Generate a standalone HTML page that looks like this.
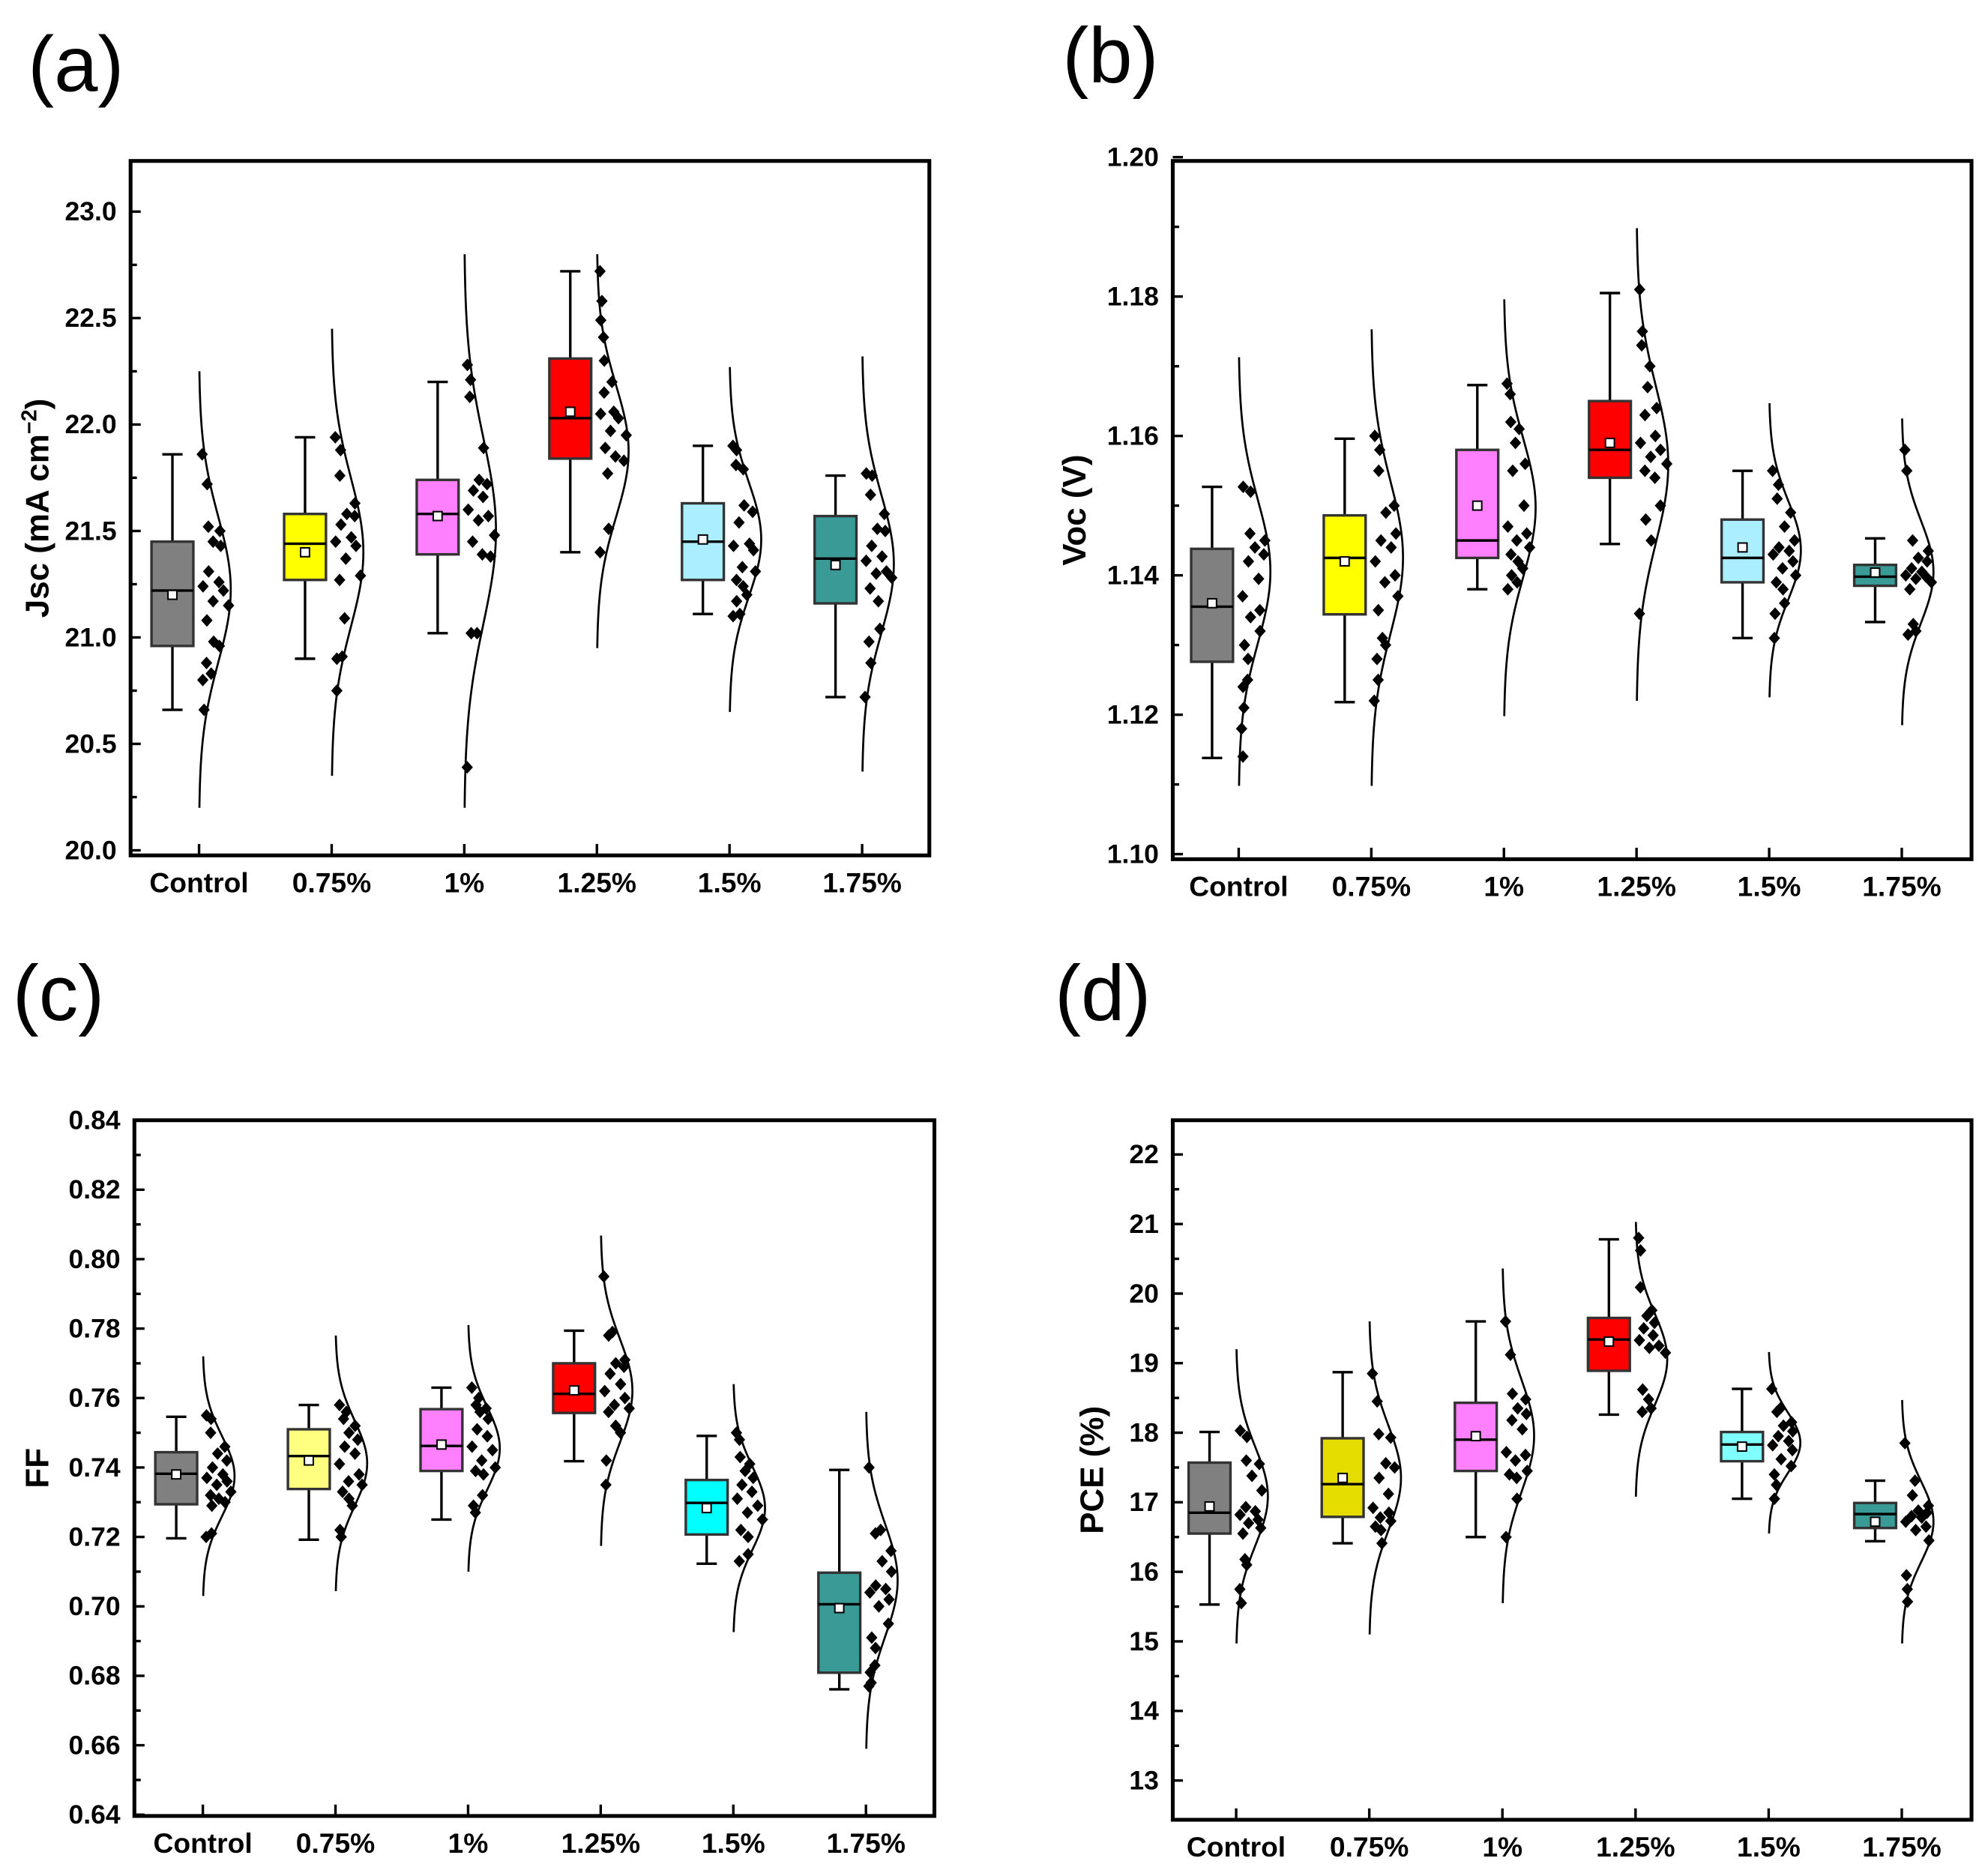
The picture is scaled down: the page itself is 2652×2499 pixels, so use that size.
<!DOCTYPE html>
<html><head><meta charset="utf-8"><style>
html,body{margin:0;padding:0;background:#fff;}
svg{display:block;}
text{font-family:"Liberation Sans",Arial,sans-serif;}
</style></head>
<body>
<svg id="fig" xmlns="http://www.w3.org/2000/svg" width="2652" height="2499" viewBox="0 0 1568 1478" preserveAspectRatio="none">
<rect x="0" y="0" width="1568" height="1478" fill="#fff"/>
</svg>
<script>
const categories = ["Control","0.75%","1%","1.25%","1.5%","1.75%"];

// ---------- (a) Jsc ----------
const jscQ1 = [20.96,21.27,21.39,21.84,21.27,21.16];
const jscQ3 = [21.45,21.58,21.74,22.31,21.63,21.57];
const jscMed = [21.22,21.44,21.58,22.03,21.45,21.37];
const jscMean = [21.20,21.40,21.57,22.06,21.46,21.34];
const jscMin = [20.66,20.90,21.02,21.40,21.11,20.72];
const jscMax = [21.86,21.94,22.20,22.72,21.90,21.76];
const jscCurveLo = [20.20,20.35,20.20,20.95,20.65,20.37];
const jscCurveHi = [22.25,22.45,22.80,22.80,22.27,22.32];
const jscPoints = [
 [21.86,21.72,21.52,21.50,21.45,21.43,21.31,21.26,21.24,21.22,21.17,21.15,21.08,20.98,20.96,20.88,20.83,20.80,20.66],
 [21.94,21.88,21.76,21.63,21.58,21.57,21.53,21.47,21.45,21.43,21.37,21.29,21.27,21.09,20.91,20.90,20.75],
 [22.28,22.21,22.13,21.89,21.74,21.72,21.69,21.66,21.60,21.57,21.55,21.48,21.45,21.39,21.38,21.02,21.02,20.39],
 [22.72,22.58,22.49,22.41,22.30,22.20,22.15,22.06,22.05,22.03,21.97,21.95,21.89,21.85,21.83,21.77,21.51,21.40],
 [21.90,21.88,21.81,21.79,21.62,21.59,21.54,21.44,21.43,21.41,21.33,21.31,21.27,21.24,21.20,21.17,21.11,21.10],
 [21.77,21.76,21.67,21.58,21.51,21.50,21.43,21.38,21.36,21.31,21.30,21.28,21.23,21.17,21.04,20.98,20.88,20.72]];
const jscTicks = ["20.0","20.5","21.0","21.5","22.0","22.5","23.0"];
const jscColors = ["#808080","#ffff00","#ff80ff","#ff0000","#aaeeff","#3a9a96"];

// ---------- (b) Voc ----------
const vocQ1 = [1.1276,1.1344,1.1425,1.154,1.139,1.1385];
const vocQ3 = [1.1438,1.1486,1.158,1.165,1.148,1.1415];
const vocMed = [1.1355,1.1425,1.145,1.158,1.1425,1.1398];
const vocMean = [1.136,1.142,1.150,1.159,1.144,1.1404];
const vocMin = [1.1138,1.1218,1.138,1.1445,1.131,1.1333];
const vocMax = [1.1527,1.1596,1.1673,1.1805,1.155,1.1453];
const vocCurveLo = [1.1098,1.1098,1.1198,1.122,1.1225,1.1185];
const vocCurveHi = [1.1713,1.1753,1.1796,1.1898,1.1647,1.1625];
const vocPoints = [
 [1.1527,1.152,1.146,1.145,1.144,1.143,1.142,1.1395,1.137,1.135,1.134,1.132,1.130,1.128,1.125,1.124,1.121,1.118,1.114],
 [1.160,1.158,1.155,1.150,1.149,1.146,1.145,1.144,1.142,1.140,1.139,1.137,1.135,1.131,1.130,1.128,1.125,1.122],
 [1.1675,1.166,1.162,1.161,1.159,1.156,1.155,1.150,1.147,1.146,1.145,1.144,1.143,1.142,1.141,1.140,1.139,1.138],
 [1.181,1.175,1.173,1.170,1.167,1.164,1.163,1.160,1.159,1.158,1.157,1.156,1.155,1.154,1.150,1.148,1.145,1.1345],
 [1.155,1.153,1.151,1.149,1.147,1.145,1.144,1.1435,1.143,1.142,1.141,1.140,1.139,1.138,1.136,1.1345,1.131],
 [1.158,1.155,1.145,1.1435,1.1425,1.142,1.141,1.1405,1.140,1.1398,1.1395,1.139,1.138,1.133,1.132,1.1315]];
const vocTicks = ["1.10","1.12","1.14","1.16","1.18","1.20"];
const vocColors = ["#808080","#ffff00","#ff80ff","#ff0000","#aaeeff","#3a9a96"];

// ---------- (c) FF ----------
const ffQ1 = [0.7294,0.7338,0.739,0.7557,0.7207,0.6809];
const ffQ3 = [0.7444,0.751,0.7568,0.770,0.7364,0.7097];
const ffMed = [0.7382,0.7433,0.7462,0.7612,0.7298,0.7006];
const ffMean = [0.738,0.742,0.7466,0.7622,0.7283,0.6995];
const ffMin = [0.7196,0.7192,0.725,0.7418,0.7123,0.6761];
const ffMax = [0.7546,0.758,0.763,0.7794,0.7491,0.7393];
const ffCurveLo = [0.703,0.7044,0.710,0.7174,0.6926,0.659];
const ffCurveHi = [0.772,0.778,0.781,0.8068,0.764,0.756];
const ffPoints = [
 [0.755,0.754,0.750,0.746,0.744,0.742,0.740,0.738,0.737,0.736,0.735,0.733,0.732,0.731,0.730,0.729,0.721,0.720],
 [0.758,0.756,0.754,0.752,0.750,0.748,0.746,0.744,0.741,0.738,0.736,0.735,0.733,0.731,0.729,0.722,0.720],
 [0.763,0.760,0.758,0.757,0.756,0.754,0.751,0.749,0.746,0.745,0.742,0.740,0.739,0.738,0.732,0.729,0.727],
 [0.795,0.779,0.778,0.771,0.770,0.769,0.767,0.764,0.762,0.760,0.758,0.757,0.756,0.752,0.750,0.742,0.735],
 [0.750,0.748,0.743,0.741,0.739,0.737,0.735,0.733,0.731,0.729,0.727,0.725,0.722,0.720,0.715,0.713],
 [0.740,0.722,0.721,0.716,0.713,0.710,0.706,0.705,0.704,0.702,0.700,0.695,0.691,0.688,0.683,0.681,0.678,0.677]];
const ffTicks = ["0.64","0.66","0.68","0.70","0.72","0.74","0.76","0.78","0.80","0.82","0.84"];
const ffColors = ["#808080","#ffff80","#ff80ff","#ff0000","#00ffff","#3a9a96"];

// ---------- (d) PCE ----------
const pceQ1 = [16.55,16.79,17.45,18.89,17.59,16.63];
const pceQ3 = [17.57,17.92,18.43,19.65,18.01,16.99];
const pceMed = [16.85,17.26,17.90,19.34,17.83,16.83];
const pceMean = [16.94,17.35,17.95,19.31,17.80,16.72];
const pceMin = [15.53,16.41,16.50,18.26,17.05,16.44];
const pceMax = [18.01,18.87,19.60,20.78,18.63,17.31];
const pceCurveLo = [14.97,15.10,15.55,17.08,16.55,14.97];
const pceCurveHi = [19.20,19.60,20.36,21.03,19.16,18.47];
const pcePoints = [
 [18.03,17.94,17.60,17.55,17.38,17.17,16.93,16.87,16.82,16.75,16.70,16.63,16.55,16.18,16.10,15.75,15.55],
 [18.85,18.45,17.98,17.93,17.56,17.50,17.35,17.12,16.92,16.85,16.78,16.73,16.65,16.60,16.41],
 [19.60,19.12,18.56,18.48,18.35,18.27,18.18,18.05,17.72,17.68,17.60,17.45,17.40,17.35,17.05,16.50],
 [20.80,20.62,20.09,19.76,19.68,19.58,19.50,19.40,19.33,19.25,19.22,19.15,18.62,18.48,18.35,18.30],
 [18.63,18.35,18.30,18.15,18.10,18.02,17.95,17.88,17.82,17.75,17.62,17.52,17.40,17.25,17.05],
 [17.85,17.31,17.10,16.95,16.88,16.85,16.80,16.78,16.72,16.65,16.60,16.45,15.95,15.75,15.57]];
const pceTicks = ["13","14","15","16","17","18","19","20","21","22"];
const pceColors = ["#808080","#e6dd00","#ff80ff","#ff0000","#80ffff","#3a9a96"];

const NS = "http://www.w3.org/2000/svg";
const svg = document.getElementById("fig");
function mk(tag, attrs, parent){
  const e = document.createElementNS(NS, tag);
  for (const k in attrs) e.setAttribute(k, attrs[k]);
  (parent||svg).appendChild(e);
  return e;
}
const jitter = [0.15,0.65,0.35,0.9,0.5,0.8,0.25,0.6,0.05,0.75,0.4,0.95,0.2,0.55,0.85,0.3,0.7,0.1,0.45];

function drawPanel(p){
  const g = mk("g", {});
  
  
  const yS = v => p.yPix0 + (v - p.v0) * (p.yPix1 - p.yPix0) / (p.v1 - p.v0);
  const xS = i => p.x0cat + i * p.catStep;
  const lab = mk("text", {x:p.labX, y:p.labY, "font-size":62, fill:"#000"}, g);
  lab.textContent = p.label;
  
  
  const fr = mk("rect", {x:p.L, y:p.T, width:p.R-p.L, height:p.B-p.T, fill:"none", stroke:"#000", "stroke-width":3}, g);
  
  
  const ticks = p.ticks;
  for (let k = 0; k < ticks.length; k++){
    const v = parseFloat(ticks[k]);
    const y = yS(v);
    mk("line", {x1:p.L, x2:p.L+8, y1:y, y2:y, stroke:"#000", "stroke-width":2}, g);
    const t = mk("text", {x:p.L-11, y:y+7, "font-size":21, "font-weight":"bold", "text-anchor":"end"}, g);
    t.textContent = ticks[k];
    
    
    if (k < ticks.length - 1){
      const vm = (v + parseFloat(ticks[k+1]))/2;
      const ym = yS(vm);
      mk("line", {x1:p.L, x2:p.L+5, y1:ym, y2:ym, stroke:"#000", "stroke-width":2}, g);
    }
  }
  const yt = mk("text", {x:0, y:0, "font-size":26, "font-weight":"bold", "text-anchor":"middle", transform:`translate(${p.ytX},${(p.T+p.B)/2}) rotate(-90)`}, g);
  if (p.ytitleHTML) { yt.innerHTML = p.ytitleHTML; } else { yt.textContent = p.ytitle; }
  
  
  for (let i = 0; i < categories.length; i++){
    const cx = xS(i);
    mk("line", {x1:cx, x2:cx, y1:p.B, y2:p.B-9, stroke:"#000", "stroke-width":2}, g);
    const ct = mk("text", {x:cx, y:p.B+29, "font-size":22, "font-weight":"bold", "text-anchor":"middle"}, g);
    ct.textContent = categories[i];
    
    
    const bx = cx - 21;
    const wg = mk("g", {}, g);
    
    
    mk("line", {x1:bx, x2:bx, y1:yS(p.max[i]), y2:yS(p.min[i]), stroke:"#000", "stroke-width":2}, wg);
    mk("line", {x1:bx-8, x2:bx+8, y1:yS(p.max[i]), y2:yS(p.max[i]), stroke:"#000", "stroke-width":2}, wg);
    mk("line", {x1:bx-8, x2:bx+8, y1:yS(p.min[i]), y2:yS(p.min[i]), stroke:"#000", "stroke-width":2}, wg);
    const yq3 = yS(p.q3[i]), yq1 = yS(p.q1[i]);
    const box = mk("rect", {x:bx-16.5, y:yq3, width:33, height:yq1-yq3, fill:p.colors[i], stroke:"#333", "stroke-width":2}, g);
    
    
    mk("line", {x1:bx-16.5, x2:bx+16.5, y1:yS(p.med[i]), y2:yS(p.med[i]), stroke:"#000", "stroke-width":2}, g);
    const mm = mk("rect", {x:bx-3.5, y:yS(p.mean[i])-3.5, width:7, height:7, fill:"#fff", stroke:"#000", "stroke-width":1.2}, g);
    
    
    const lo = p.clo[i], hi = p.chi[i];
    const mu = (lo+hi)/2, sd = (hi-lo)/6;
    const cw = v => 25 * Math.exp(-0.5*Math.pow((v-mu)/sd,2));
    let d = "";
    for (let s = 0; s <= 80; s++){
      const v = lo + (hi-lo)*s/80;
      d += (s?"L":"M") + (cx + cw(v)).toFixed(2) + "," + yS(v).toFixed(2);
    }
    const cp = mk("path", {d:d, fill:"none", stroke:"#000", "stroke-width":1.6}, g);
    
    
    const pts = p.points[i];
    for (let j = 0; j < pts.length; j++){
      const v = pts[j];
      const px = cx + 2 + jitter[j % jitter.length] * Math.max(cw(v) - 2, 3);
      const py = yS(v);
      const dm = mk("path", {d:`M${px},${py-5}L${px+4.5},${py}L${px},${py+5}L${px-4.5},${py}Z`, fill:"#000"}, g);
      
      
    }
  }
}

drawPanel({name:"panel-a-jsc", label:"(a)", labX:22, labY:72, L:103, R:733, T:127, B:675,
  v0:20.0, v1:23.0, yPix0:671, yPix1:167, x0cat:157, catStep:104.6, ticks:jscTicks,
  ytX:38, ytitleHTML:'Jsc (mA cm<tspan baseline-shift="super" font-size="17">−2</tspan>)',
  q1:jscQ1,q3:jscQ3,med:jscMed,mean:jscMean,min:jscMin,max:jscMax,clo:jscCurveLo,chi:jscCurveHi,points:jscPoints,colors:jscColors});
drawPanel({name:"panel-b-voc", label:"(b)", labX:838, labY:65, L:925, R:1555, T:127, B:678,
  v0:1.10, v1:1.20, yPix0:674, yPix1:124, x0cat:977, catStep:104.6, ticks:vocTicks,
  ytX:856, ytitle:"Voc (V)",
  q1:vocQ1,q3:vocQ3,med:vocMed,mean:vocMean,min:vocMin,max:vocMax,clo:vocCurveLo,chi:vocCurveHi,points:vocPoints,colors:vocColors});
drawPanel({name:"panel-c-ff", label:"(c)", labX:10, labY:805, L:106, R:737, T:884, B:1433,
  v0:0.64, v1:0.84, yPix0:1432, yPix1:884, x0cat:160, catStep:104.6, ticks:ffTicks,
  ytX:38, ytitle:"FF",
  q1:ffQ1,q3:ffQ3,med:ffMed,mean:ffMean,min:ffMin,max:ffMax,clo:ffCurveLo,chi:ffCurveHi,points:ffPoints,colors:ffColors});
drawPanel({name:"panel-d-pce", label:"(d)", labX:832, labY:805, L:925, R:1555, T:884, B:1436,
  v0:13, v1:22, yPix0:1405, yPix1:911, x0cat:975, catStep:105, ticks:pceTicks,
  ytX:870, ytitle:"PCE (%)",
  q1:pceQ1,q3:pceQ3,med:pceMed,mean:pceMean,min:pceMin,max:pceMax,clo:pceCurveLo,chi:pceCurveHi,points:pcePoints,colors:pceColors});
</script>
</body></html>
